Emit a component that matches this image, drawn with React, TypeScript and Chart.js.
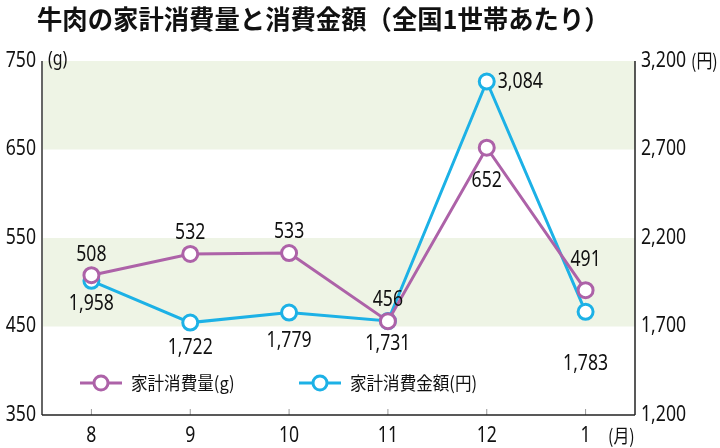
import React, { useEffect, useRef } from "react";
import { Chart, registerables } from "chart.js";

Chart.register(...registerables);

const TITLE = "牛肉の家計消費量と消費金額（全国1世帯あたり）";
const months = ["8", "9", "10", "11", "12", "1"];
const volumeLabel = "家計消費量(g)";
const amountLabel = "家計消費金額(円)";
const volume = [508, 532, 533, 456, 652, 491];
const amount = [1958, 1722, 1779, 1731, 3084, 1783];
const leftTicks = [350, 450, 550, 650, 750];
const rightTicks = [1200, 1700, 2200, 2700, 3200];

const PURPLE = "#ad62a8";
const BLUE = "#1cb1e6";
const BAND = "#eef4e5";
const NUM_FONT = "'Noto Sans', sans-serif";
const JP_FONT = "'Noto Sans CJK JP', sans-serif";
const SX = 0.84;

// label offsets [dx, dy] relative to point (positioning only)
const volOffsets = [[0, -20], [0, -21], [0, -21], [0, -21], [0, 33], [0, -30]];
const amtOffsets = [[0, 23], [0, 25], [0, 28], [0, 23], [11, 0], [0, 52]];

function cText(ctx: any, t: string, x: number, y: number, align: string) {
  ctx.save();
  ctx.translate(x, y);
  ctx.scale(SX, 1);
  ctx.textAlign = align;
  ctx.fillText(t, 0, 0);
  ctx.restore();
}

const fmt = (v: number) => v.toLocaleString("en-US");

const overlay = {
  id: "overlay",
  beforeDatasetsDraw(chart: any) {
    const { ctx, chartArea: a, scales } = chart;
    const y = scales.y;
    ctx.save();
    ctx.fillStyle = BAND;
    const bands = [[650, 750], [450, 550]];
    for (const [lo, hi] of bands) {
      const t = y.getPixelForValue(hi);
      const b = y.getPixelForValue(lo);
      ctx.fillRect(a.left, t, a.right - a.left, b - t);
    }
    ctx.strokeStyle = "#999";
    ctx.lineWidth = 1;
    months.forEach((_, i) => {
      const px = scales.x.getPixelForValue(i);
      ctx.beginPath();
      ctx.moveTo(px, a.bottom);
      ctx.lineTo(px, a.bottom - 6);
      ctx.stroke();
    });
    ctx.restore();
  },
  afterDraw(chart: any) {
    const { ctx, chartArea: a, scales } = chart;
    ctx.save();
    ctx.fillStyle = "#111";
    ctx.font = `bold 26px ${JP_FONT}`;
    ctx.textAlign = "left";
    ctx.textBaseline = "middle";
    ctx.save();
    ctx.translate(37, 19);
    ctx.scale(0.975, 1);
    ctx.fillText(TITLE, 0, 0);
    ctx.restore();

    // axis lines
    ctx.lineWidth = 2;
    ctx.strokeStyle = "#666";
    ctx.beginPath();
    ctx.moveTo(a.left, a.top);
    ctx.lineTo(a.left, a.bottom);
    ctx.stroke();
    ctx.strokeStyle = "#222";
    ctx.lineWidth = 1.5;
    ctx.beginPath();
    ctx.moveTo(a.right, a.top);
    ctx.lineTo(a.right, a.bottom);
    ctx.stroke();
    ctx.beginPath();
    ctx.moveTo(a.left, a.bottom);
    ctx.lineTo(a.right, a.bottom);
    ctx.stroke();

    ctx.fillStyle = "#111";
    ctx.textBaseline = "middle";
    ctx.font = `21px ${NUM_FONT}`;
    leftTicks.forEach((v) => cText(ctx, String(v), a.left - 6, scales.y.getPixelForValue(v), "right"));
    rightTicks.forEach((v) => cText(ctx, fmt(v), a.right + 6, scales.y1.getPixelForValue(v), "left"));
    months.forEach((m, i) => cText(ctx, m, scales.x.getPixelForValue(i), 436, "center"));

    ctx.font = `19px ${NUM_FONT}`;
    cText(ctx, "(g)", a.left + 6, a.top - 1, "left");
    ctx.font = `19px ${JP_FONT}`;
    cText(ctx, "(円)", 691, a.top, "left");
    cText(ctx, "(月)", a.right - 27, 436, "left");

    ctx.font = `21px ${NUM_FONT}`;
    const m0 = chart.getDatasetMeta(0).data;
    const m1 = chart.getDatasetMeta(1).data;
    volume.forEach((v, i) => {
      const p = m0[i];
      cText(ctx, fmt(v), p.x + volOffsets[i][0], p.y + volOffsets[i][1], "center");
    });
    amount.forEach((v, i) => {
      const p = m1[i];
      cText(ctx, fmt(v), p.x + amtOffsets[i][0], p.y + amtOffsets[i][1], amtOffsets[i][0] > 0 ? "left" : "center");
    });

    const items = [
      { x: 80, color: PURPLE, text: volumeLabel },
      { x: 299, color: BLUE, text: amountLabel },
    ];
    const ly = 383;
    for (const it of items) {
      ctx.strokeStyle = it.color;
      ctx.lineWidth = 3;
      ctx.beginPath();
      ctx.moveTo(it.x, ly);
      ctx.lineTo(it.x + 42, ly);
      ctx.stroke();
      ctx.beginPath();
      ctx.arc(it.x + 21, ly, 7, 0, Math.PI * 2);
      ctx.fillStyle = "#fff";
      ctx.fill();
      ctx.stroke();
      ctx.fillStyle = "#111";
      ctx.font = `18px ${JP_FONT}`;
      ctx.save();
      ctx.translate(it.x + 51, ly);
      ctx.scale(0.92, 1);
      ctx.textAlign = "left";
      ctx.fillText(it.text, 0, 0);
      ctx.restore();
    }
    ctx.restore();
  },
};

export default function App() {
  const ref = useRef<HTMLCanvasElement | null>(null);
  useEffect(() => {
    document.body.style.margin = "0";
    const ds = (label: string, data: number[], axis: string, color: string) => ({
      label,
      data,
      yAxisID: axis,
      borderColor: color,
      backgroundColor: "#fff",
      borderWidth: 3,
      pointRadius: 7.5,
      pointBorderWidth: 3,
      pointBackgroundColor: "#fff",
      pointBorderColor: color,
    });
    const c = new Chart(ref.current as HTMLCanvasElement, {
      type: "line",
      data: {
        labels: months,
        datasets: [ds(volumeLabel, volume, "y", PURPLE), ds(amountLabel, amount, "y1", BLUE)],
      },
      options: {
        animation: false,
        responsive: false,
        layout: { padding: { top: 61, left: 0, right: 0, bottom: 0 } },
        plugins: { legend: { display: false }, tooltip: { enabled: false } },
        scales: {
          x: {
            offset: true,
            grid: { display: false, drawTicks: false },
            border: { display: false },
            ticks: { display: false },
            afterFit: (s: any) => { s.height = 33; },
          },
          y: {
            position: "left",
            min: 350,
            max: 750,
            grid: { display: false, drawTicks: false },
            border: { display: false },
            ticks: { display: false },
            afterFit: (s: any) => { s.width = 42; },
          },
          y1: {
            position: "right",
            min: 1200,
            max: 3200,
            grid: { display: false, drawTicks: false },
            border: { display: false },
            ticks: { display: false },
            afterFit: (s: any) => { s.width = 85; },
          },
        },
      },
      plugins: [overlay],
    });
    return () => c.destroy();
  }, []);
  return (
    <div style={{ width: 720, height: 448 }}>
      <canvas ref={ref} width={720} height={448} />
    </div>
  );
}
